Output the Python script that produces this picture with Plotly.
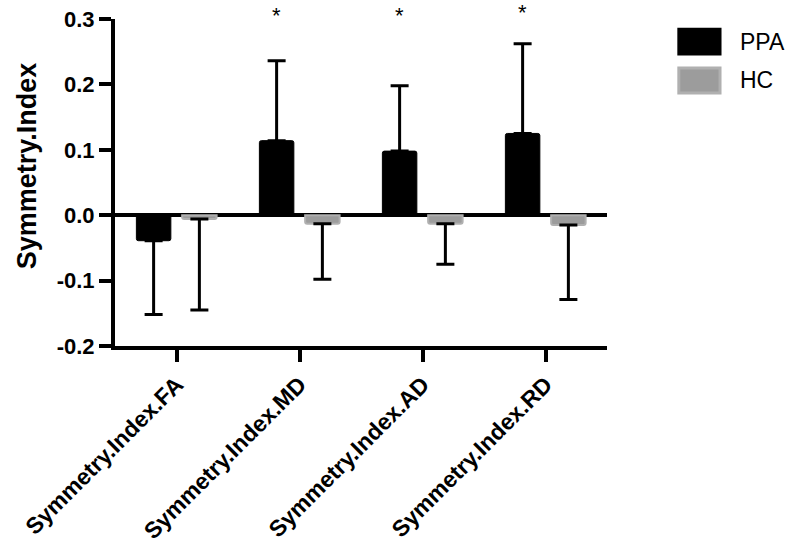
import plotly.graph_objects as go

categories = ["Symmetry.Index.FA", "Symmetry.Index.MD", "Symmetry.Index.AD", "Symmetry.Index.RD"]
ppa_mean = [-0.039, 0.114, 0.098, 0.125]
ppa_err = [0.113, 0.122, 0.100, 0.137]
hc_mean = [-0.006, -0.013, -0.013, -0.015]
hc_err = [0.139, 0.085, 0.062, 0.114]
star_idx = [1, 2, 3]
star_y = [0.315, 0.315, 0.319]
yticks = [-0.2, -0.1, 0.0, 0.1, 0.2, 0.3]
ytick_labels = ["-0.2", "-0.1", "0.0", "0.1", "0.2", "0.3"]

FONT = "Liberation Sans, Arial, sans-serif"
Y_RANGE = [-0.2, 0.3]


def split_err(means, errs):
    plus = [e if m >= 0 else 0 for m, e in zip(means, errs)]
    minus = [e if m < 0 else 0 for m, e in zip(means, errs)]
    return plus, minus


ppa_plus, ppa_minus = split_err(ppa_mean, ppa_err)
hc_plus, hc_minus = split_err(hc_mean, hc_err)

x_idx = list(range(len(categories)))

fig = go.Figure()
fig.add_trace(go.Bar(
    x=x_idx, y=ppa_mean, name="PPA",
    marker=dict(color="#000000", line=dict(color="#000000", width=1)),
    error_y=dict(type="data", symmetric=False, array=ppa_plus, arrayminus=ppa_minus,
                 color="#000000", thickness=3, width=9),
    showlegend=False,
))
fig.add_trace(go.Bar(
    x=x_idx, y=hc_mean, name="HC",
    marker=dict(color="#9c9c9c", line=dict(color="#b0b0b0", width=2)),
    error_y=dict(type="data", symmetric=False, array=hc_plus, arrayminus=hc_minus,
                 color="#000000", thickness=3, width=9),
    showlegend=False,
))

slot = 0.372
for i, yy in zip(star_idx, star_y):
    ypaper = (yy - Y_RANGE[0]) / (Y_RANGE[1] - Y_RANGE[0])
    fig.add_annotation(x=i - slot / 2, y=ypaper, xref="x", yref="paper", text="*",
                       showarrow=False, font=dict(family=FONT, size=22, color="#000000"),
                       yanchor="middle", yshift=-6)

# Y title
fig.add_annotation(x=-0.213, y=0.55, xref="paper", yref="paper", text="<b>Symmetry.Index</b>",
                   textangle=-90, showarrow=False,
                   font=dict(family=FONT, size=27, color="#000000"))

# Legend (drawn manually to mimic large swatches)
legend_items = [("PPA", "#000000", "#000000", 0.969, 0.893), ("HC", "#9c9c9c", "#b0b0b0", 0.850, 0.774)]
for name, fill, edge, y1, y0 in legend_items:
    fig.add_shape(type="rect", xref="paper", yref="paper", x0=1.146, x1=1.2297, y0=y0, y1=y1,
                  fillcolor=fill, line=dict(color=edge, width=3))
    fig.add_annotation(x=1.266, y=(y0 + y1) / 2, xref="paper", yref="paper", text=name,
                       showarrow=False, xanchor="left", yanchor="middle",
                       font=dict(family=FONT, size=23, color="#000000"))

fig.update_layout(
    width=791, height=542,
    margin=dict(l=115, r=184, t=19, b=196, autoexpand=False),
    paper_bgcolor="white", plot_bgcolor="white",
    barmode="group", bargap=0.256, bargroupgap=0.247,
    barcornerradius=2,
    font=dict(family=FONT, color="#000000"),
)
fig.update_xaxes(
    range=[-0.5, 3.5], tickmode="array", tickvals=x_idx, ticktext=categories,
    tickangle=-45, tickfont=dict(family=FONT, size=23, weight="bold", color="#000000"),
    showline=True, linecolor="#000000", linewidth=4,
    ticks="outside", ticklen=12, tickwidth=4, tickcolor="#000000",
    showgrid=False, zeroline=False, layer="above traces", automargin=False,
)
fig.update_yaxes(
    range=Y_RANGE, tickmode="array", tickvals=yticks, ticktext=ytick_labels,
    tickfont=dict(family=FONT, size=22, weight="bold", color="#000000"),
    showline=True, linecolor="#000000", linewidth=4,
    ticks="outside", ticklen=12, tickwidth=4, tickcolor="#000000",
    showgrid=False, zeroline=True, zerolinecolor="#000000", zerolinewidth=4,
    layer="above traces", automargin=False,
)

fig.write_html(
    "out.html",
    config={"displayModeBar": False, "staticPlot": True},
    post_script="document.body.style.margin='0';document.body.style.overflow='hidden';",
)
